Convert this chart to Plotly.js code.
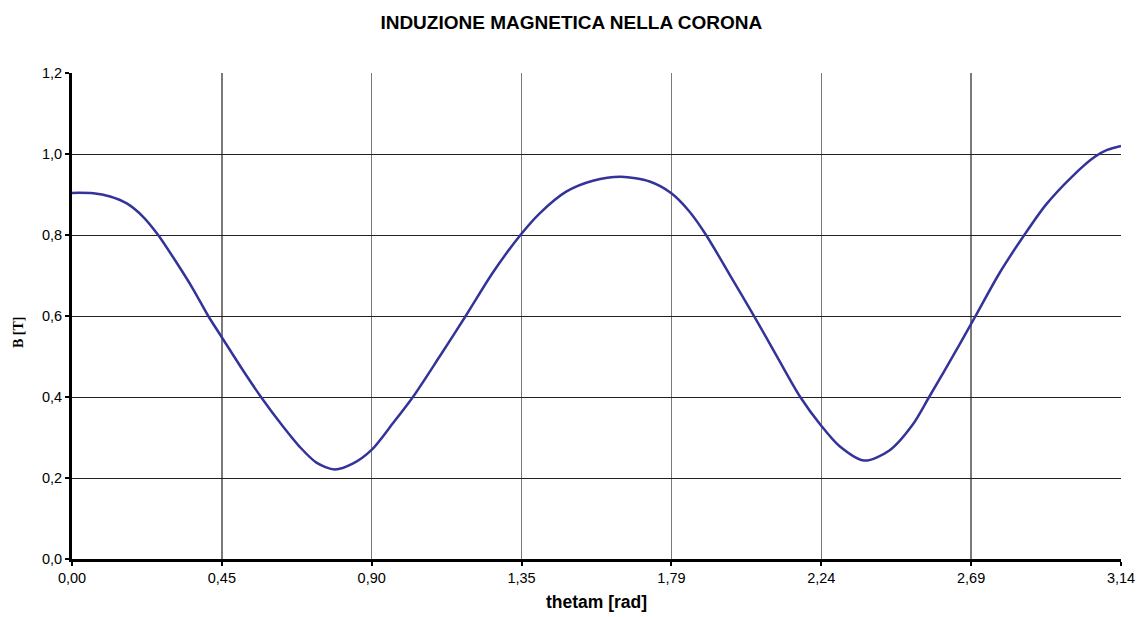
<!DOCTYPE html>
<html>
<head>
<meta charset="utf-8">
<script src="https://cdn.plot.ly/plotly-3.0.1.min.js"></script>
<style>html,body{margin:0;padding:0;background:#fff;}#chart{width:1138px;height:617px;}</style>
</head>
<body>
<div id="chart"></div>
<script>
const thetam = [0, 0.064, 0.114, 0.164, 0.213, 0.258, 0.313, 0.363, 0.408, 0.449, 0.508, 0.566, 0.632, 0.682, 0.732, 0.787, 0.842, 0.898, 0.961, 1.021, 1.101, 1.179, 1.261, 1.343, 1.400, 1.480, 1.560, 1.645, 1.730, 1.795, 1.849, 1.899, 1.969, 2.044, 2.114, 2.181, 2.242, 2.298, 2.373, 2.448, 2.518, 2.567, 2.657, 2.706, 2.777, 2.852, 2.917, 2.996, 3.061, 3.100, 3.1416];
const B = [0.904, 0.903, 0.895, 0.878, 0.845, 0.800, 0.732, 0.666, 0.600, 0.547, 0.471, 0.400, 0.327, 0.277, 0.238, 0.221, 0.236, 0.270, 0.335, 0.400, 0.500, 0.600, 0.708, 0.800, 0.853, 0.907, 0.934, 0.944, 0.932, 0.903, 0.858, 0.800, 0.703, 0.598, 0.496, 0.400, 0.331, 0.279, 0.243, 0.268, 0.332, 0.400, 0.528, 0.600, 0.705, 0.800, 0.875, 0.945, 0.992, 1.010, 1.020];
const xTickVals = [0, 0.4488, 0.8976, 1.3464, 1.7952, 2.2440, 2.6928, 3.1416];
const xTickText = ["0,00", "0,45", "0,90", "1,35", "1,79", "2,24", "2,69", "3,14"];
const yTitle = 'B [T]';

const trace = {
  x: thetam, y: B, type: 'scatter', mode: 'lines',
  line: {color: '#333399', width: 2.5, shape: 'spline', smoothing: 0.8},
  hoverinfo: 'x+y'
};

const sans = 'Liberation Sans, Arial, sans-serif';
const layout = {
  width: 1138, height: 617,
  paper_bgcolor: '#ffffff', plot_bgcolor: '#ffffff',
  separators: ',.',
  margin: {l: 72, r: 17, t: 73, b: 58},
  showlegend: false,
  title: {text: 'INDUZIONE MAGNETICA NELLA CORONA', x: 0.502, xref: 'container', xanchor: 'center',
          y: 0.963, yref: 'container', yanchor: 'middle',
          font: {family: sans, size: 19, color: '#000', weight: 'bold'}},
  xaxis: {
    range: [0, 3.1416], tickvals: xTickVals, ticktext: xTickText,
    showgrid: true, gridcolor: '#7a7a7a', gridwidth: 1.5,
    showline: true, linecolor: '#000', linewidth: 3,
    ticks: 'outside', ticklen: 4, tickwidth: 2, tickcolor: '#000',
    zeroline: false,
    tickfont: {family: sans, size: 14.5, color: '#000'},
    title: {text: 'thetam [rad]', standoff: 11, font: {family: sans, size: 17.5, color: '#000', weight: 'bold'}}
  },
  yaxis: {
    range: [0, 1.2], dtick: 0.2, tick0: 0, tickformat: '.1f',
    showgrid: true, gridcolor: '#222', gridwidth: 1,
    showline: true, linecolor: '#000', linewidth: 3,
    ticks: 'outside', ticklen: 4, tickwidth: 2, tickcolor: '#000',
    zeroline: false,
    tickfont: {family: sans, size: 14.5, color: '#000'}
  },
  annotations: [{
    text: yTitle, textangle: -90, showarrow: false,
    xref: 'paper', x: 0, xanchor: 'center', xshift: -54,
    yref: 'paper', y: 0.5, yanchor: 'middle', yshift: -16,
    font: {family: 'Liberation Serif, Times New Roman, serif', size: 14, color: '#000', weight: 'bold'}
  }]
};

Plotly.newPlot('chart', [trace], layout, {displayModeBar: false, staticPlot: true});
</script>
</body>
</html>
